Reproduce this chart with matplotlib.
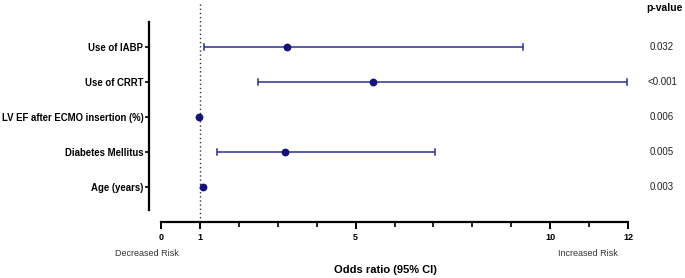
import matplotlib
matplotlib.use("Agg")
import matplotlib.pyplot as plt
from matplotlib.transforms import blended_transform_factory
import numpy as np

plt.rcParams['font.family'] = ['Liberation Sans', 'DejaVu Sans']

# forest plot data (top to bottom)
labels = ["Use of IABP", "Use of CRRT", "LV EF after ECMO insertion (%)",
          "Diabetes Mellitus", "Age (years)"]
odds = [3.24, 5.45, 0.98, 3.19, 1.08]
ci_low = [1.10, 2.49, 0.96, 1.44, 1.05]
ci_high = [9.30, 11.98, 1.00, 7.04, 1.11]
pvals = ["0.032", "<0.001", "0.006", "0.005", "0.003"]
xticks = [0, 1, 5, 10, 12]

W, H = 685, 278
fig = plt.figure(figsize=(W / 100, H / 100), dpi=100)

# axes box in pixels: x spine at px 222, top at px 3
px_left, px_right = 149, 628
px_top, px_bot = 3, 222
ax = fig.add_axes([px_left / W, 1 - px_bot / H, (px_right - px_left) / W, (px_bot - px_top) / H])

ypos = np.arange(len(labels))[::-1] + 1
navy = "#12127a"
line_col = "#2e2e99"

for y, o, lo, hi in zip(ypos, odds, ci_low, ci_high):
    ax.plot([lo, hi], [y, y], color=line_col, lw=1.1, solid_capstyle='butt')
    if hi - lo > 0.1:
        ax.plot([lo, lo], [y - 0.09, y + 0.09], color=line_col, lw=1.1)
        ax.plot([hi, hi], [y - 0.09, y + 0.09], color=line_col, lw=1.1)
    ax.plot(o, y, 'o', color=navy, ms=4.6, zorder=3)

ax.axvline(1, color="#333333", lw=1.0, ls=(0, (1, 2)), zorder=1)

ax.set_xlim(-12 / 38.9, 12)
ax.set_ylim(0, 5 + 44 / 35)

ax.spines['top'].set_visible(False)
ax.spines['right'].set_visible(False)
ax.spines['left'].set_linewidth(1.6)
ax.spines['left'].set_bounds(1 - 23 / 35, 5 + 25 / 35)
ax.spines['bottom'].set_linewidth(1.6)
ax.spines['bottom'].set_bounds(0, 12)

ax.set_yticks(ypos)
ax.set_yticklabels(labels, fontsize=6.9, fontweight='bold')
ax.tick_params(axis='y', length=3, width=1.2, pad=1)

ax.set_xticks(xticks)
ax.set_xticklabels([str(t) for t in xticks], fontsize=6.5, fontweight='bold')
ax.set_xticks(np.arange(0, 13), minor=True)
ax.tick_params(axis='x', which='major', length=5, width=1.4, pad=3)
ax.tick_params(axis='x', which='minor', length=3.5, width=1.2)

# p-value column
fig.text(664 / W, 1 - 8 / H, "p-value", fontsize=7.5, fontweight='bold', ha='center', va='center')
trans = blended_transform_factory(fig.transFigure, ax.transData)
for y, p in zip(ypos, pvals):
    ax.text(662 / W, y, p, transform=trans, fontsize=7, ha='center', va='center', color='#222222')

fig.text(147 / W, 1 - 253 / H, "Decreased Risk", fontsize=6.5, ha='center', va='center', color='#333333')
fig.text(588 / W, 1 - 253 / H, "Increased Risk", fontsize=6.5, ha='center', va='center', color='#333333')
fig.text(385 / W, 1 - 270 / H, "Odds ratio (95% CI)", fontsize=8, fontweight='bold', ha='center', va='center')

fig.savefig("out.png", dpi=100)
